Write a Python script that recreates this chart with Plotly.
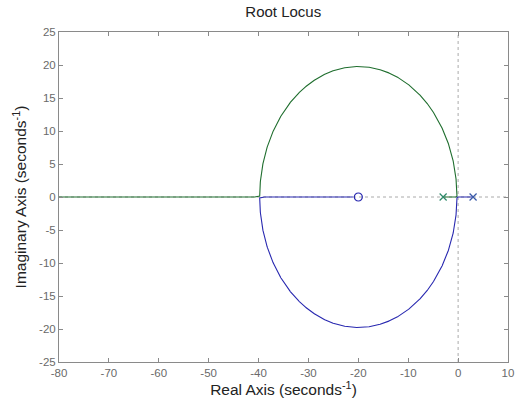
import numpy as np
import plotly.graph_objects as go

# Open-loop poles and zeros of the system
poles = [-3.0, 3.0]
zeros = [-20.0]
x_ticks = [-80, -70, -60, -50, -40, -30, -20, -10, 0, 10]
y_ticks = [-25, -20, -15, -10, -5, 0, 5, 10, 15, 20, 25]

# Root locus of G(s) = (s - z) / ((s - p1)(s - p2)) : den(s) + K num(s) = 0
den = np.poly(poles)
num = np.poly(zeros)
gains = np.concatenate([np.linspace(0, 1, 400), np.linspace(1, 100, 2000), np.linspace(100, 400, 400)])

blue_pts, green_pts = [], []
for k in gains:
    r = np.roots(np.polyadd(den, k * num))
    if np.all(np.abs(r.imag) < 1e-9):
        r = np.sort(r.real)
        blue_pts.append(complex(r[1], 0.0))
        green_pts.append(complex(r[0], 0.0))
    else:
        blue_pts.append(r[np.argmin(r.imag)])
        green_pts.append(r[np.argmax(r.imag)])
blue_pts = np.array(blue_pts)
green_pts = np.array(green_pts)

BLUE = "#2828b0"
GREEN = "#1f6e2e"
FONT = "Liberation Sans, Arial, sans-serif"

fig = go.Figure()
fig.add_trace(go.Scatter(x=green_pts.real, y=green_pts.imag, mode="lines",
                         line=dict(color=GREEN, width=1.1), hoverinfo="skip"))
fig.add_trace(go.Scatter(x=blue_pts.real, y=blue_pts.imag, mode="lines",
                         line=dict(color=BLUE, width=1.1), hoverinfo="skip"))
fig.add_trace(go.Scatter(x=[poles[0]], y=[0], mode="markers",
                         marker=dict(symbol="x-thin", size=7, line=dict(color="#2e8a6a", width=1.2))))
fig.add_trace(go.Scatter(x=[poles[1]], y=[0], mode="markers",
                         marker=dict(symbol="x-thin", size=7, line=dict(color="#3a5aa8", width=1.2))))
fig.add_trace(go.Scatter(x=zeros, y=[0], mode="markers",
                         marker=dict(symbol="circle-open", size=8, color=BLUE, line=dict(width=1.2))))

# dotted axis lines at real = 0 and imag = 0
fig.add_shape(type="line", xref="x", yref="paper", x0=0, x1=0, y0=0, y1=1,
              line=dict(color="#aaaaaa", width=1, dash="dot"), layer="below")
fig.add_shape(type="line", xref="paper", yref="y", x0=0, x1=1, y0=0, y1=0,
              line=dict(color="#aaaaaa", width=1, dash="dot"), layer="below")

axis_common = dict(showline=True, mirror="ticks", linecolor="#8a8a8a", linewidth=1,
                   ticks="inside", ticklen=4, tickcolor="#8a8a8a", showgrid=False,
                   zeroline=False, automargin=False,
                   tickfont=dict(family=FONT, size=11.5, color="#6a6a6a"))

fig.update_layout(
    width=516, height=410,
    autosize=False,
    margin=dict(l=59, r=8, t=32, b=48, autoexpand=False),
    paper_bgcolor="white", plot_bgcolor="white",
    showlegend=False,
    font=dict(family=FONT),
    title=dict(text="Root Locus", x=0.549, xanchor="center", y=0.971, yanchor="middle",
               font=dict(family=FONT, size=15, color="#222222")),
    xaxis=dict(range=[-80, 10], tickvals=x_ticks, ticktext=[str(v) for v in x_ticks],
               title=dict(text="Real Axis (seconds<sup>-1</sup>)", standoff=4,
                          font=dict(family=FONT, size=15.5, color="#222222")),
               **axis_common),
    yaxis=dict(range=[-25, 25], tickvals=y_ticks, ticktext=[str(v) for v in y_ticks],
               title=dict(text="Imaginary Axis (seconds<sup>-1</sup>)", standoff=8,
                          font=dict(family=FONT, size=15.5, color="#222222")),
               **axis_common),
)

fig.write_html(
    "out.html",
    config={"displayModeBar": False, "responsive": False},
    post_script=("document.documentElement.style.overflow='hidden';"
                 "document.body.style.overflow='hidden';"
                 "document.body.style.margin='0px';"),
)
